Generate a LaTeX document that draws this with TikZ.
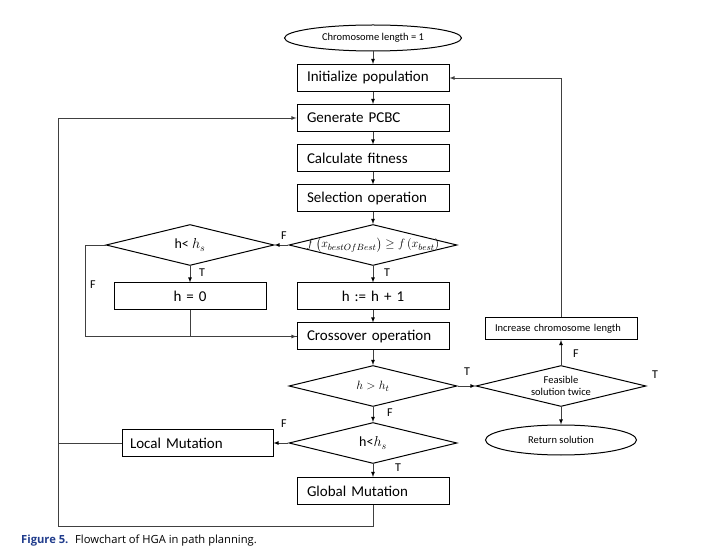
\documentclass[tikz,border=0pt]{standalone}
\usepackage{amsmath}
\usepackage{fontspec}
\setmainfont{Carlito}
\newfontfamily\capfont{Open Sans}
\usepackage{tikz}
\usetikzlibrary{arrows,shapes.geometric}
\definecolor{capblue}{RGB}{32,60,140}

\begin{document}
\begin{tikzpicture}[>=latex,x=1pt,y=-1pt,node distance=40pt,
                    process/.style={rectangle,draw,line width=1pt,minimum width=152pt,minimum height=27pt,
                      text width=132pt,align=left,inner xsep=10pt,inner ysep=0pt,font=\fontsize{15}{18}\selectfont},
                    terminal/.style={ellipse,draw,line width=1pt,inner sep=0pt,font=\fontsize{10.5}{12}\selectfont},
                    decision/.style={diamond,draw,line width=1pt,inner sep=0pt,minimum width=168pt,minimum height=41pt},
                    conn/.style={draw=black!75,line width=0.8pt},
                    tf/.style={font=\fontsize{12}{14}\selectfont,inner sep=0pt}]
  \useasboundingbox (0,0) rectangle (707,553);
  %main column%
  \node[terminal,minimum width=177pt,minimum height=26pt] (start) at (373,38) {Chromosome length = 1};
  \node[process] (init) [below of=start] {Initialize population};
  \node[process] (gen) [below of=init] {Generate PCBC};
  \node[process] (calc) [below of=gen,node distance=40.5pt] {Calculate fitness};
  \node[process] (sel) [below of=calc] {Selection operation};
  \node[decision,label={[font=\fontsize{13}{15}\selectfont]center:$f\left(x_{bestOfBest}\right)\geq f\left(x_{best}\right)$}]
    (best) [below of=sel,node distance=46.5pt] {};
  \node[process,align=center] (hinc) [below of=best,node distance=51.5pt] {h := h + 1};
  \node[process] (cross) [below of=hinc] {Crossover operation};
  \node[decision,label={[font=\fontsize{13}{15}\selectfont]center:$h>h_t$}]
    (hgt) [below of=cross,node distance=49.5pt] {};
  \node[decision,label={[font=\fontsize{14}{16}\selectfont]center:h<$h_s$}]
    (hls) [below of=hgt,node distance=57pt] {};
  \node[process] (glob) [below of=hls,node distance=48pt] {Global Mutation};
  %left branch%
  \node[decision,label={[font=\fontsize{14}{16}\selectfont]center:h< $h_s$}]
    (hlt) [left of=best,node distance=183pt] {};
  \node[process,align=center] (hzero) [below of=hlt,node distance=51.5pt] {h = 0};
  \node[process,minimum width=151pt,text width=135pt,inner xsep=8pt] (local) [left of=hls,node distance=175.5pt] {Local Mutation};
  %right branch%
  \node[decision,minimum width=170pt,label={[align=center,font=\fontsize{10.5}{12}\selectfont]center:Feasible\\solution twice}]
    (feas) [right of=hgt,node distance=188pt] {};
  \node[process,minimum height=22pt,font=\fontsize{10.5}{12}\selectfont] (inclen) [above of=feas,node distance=57.5pt] {Increase chromosome length};
  \node[terminal,minimum width=151pt,minimum height=30pt] (ret) [below of=feas,node distance=54pt] {Return solution};

  \path[->,conn]
    (start) edge (init)
    (init) edge (gen)
    (gen) edge (calc)
    (calc) edge (sel)
    (sel) edge (best)
    (best) edge (hinc)
    	edge (hlt)
    (hinc) edge (cross)
    (cross) edge (hgt)
    (hgt) edge (hls)
    	edge (feas)
    (hls) edge (glob)
    	edge (local)
    (hlt) edge (hzero)
    (feas) edge (inclen)
    	edge (ret);

  %loops%
  \coordinate (loop) at (58,526);
  \draw[->,conn] (hlt.west) -- ++(-20,0) |- (cross.west);
  \draw[conn] (hzero.south) |- (cross.west);
  \draw[->,conn] (inclen.north) |- (init.east);
  \draw[->,conn] (glob.south) |- (loop) |- (gen.west);
  \draw[conn] (local.west) -- (local.west -| loop);

  %T/F labels%
  \node[tf] (fBest) at (284,236) {F};
  \node[tf] (tLeft) at (202,273) {T};
  \node[tf] (tBest) at (387,273) {T};
  \node[tf] (fLeft) at (93,285) {F};
  \node[tf] (tGt) at (467,372) {T};
  \node[tf] (fFeas) at (576,354) {F};
  \node[tf] (tFeas) at (655,375) {T};
  \node[tf] (fGt) at (390,413) {F};
  \node[tf] (fLs) at (284,424) {F};
  \node[tf] (tLs) at (398,468) {T};

  %caption%
  \node[anchor=west,inner sep=0pt,text=capblue,font=\capfont\bfseries\fontsize{11.2}{13}\selectfont] (capnum) at (21,541) {Figure 5.};
  \node[anchor=west,inner sep=0pt,font=\capfont\fontsize{11.2}{13}\selectfont] (captext) at (75,541) {Flowchart of HGA in path planning.};
\end{tikzpicture}
\end{document}
